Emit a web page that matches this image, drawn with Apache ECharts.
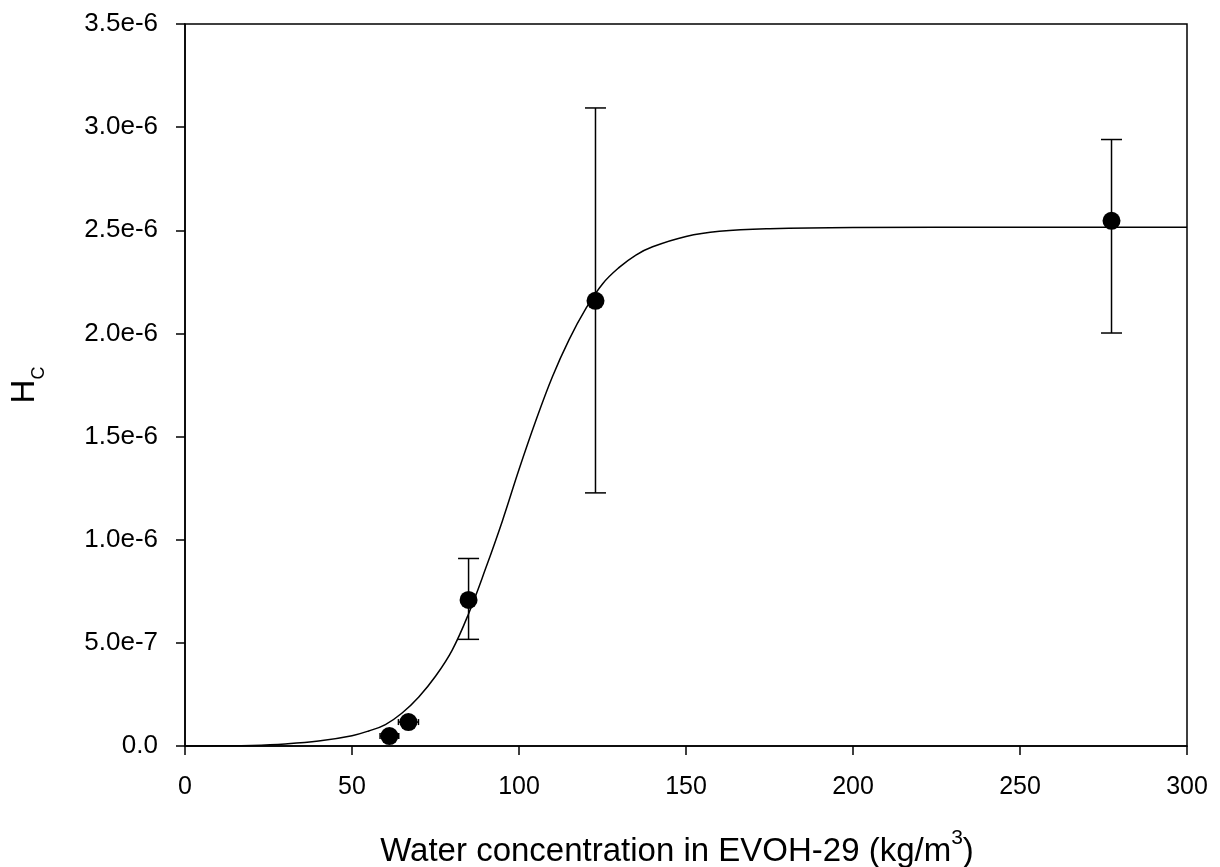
<!DOCTYPE html>
<html>
<head>
<meta charset="utf-8">
<script src="https://cdn.jsdelivr.net/npm/echarts@6/dist/echarts.min.js"></script>
<style>
html,body{margin:0;padding:0;background:#fff;}
#chart{width:1220px;height:867px;}
</style>
</head>
<body>
<div id="chart"></div>
<script>
// Measured data points
const pointX = [61.2, 66.9, 84.9, 122.9, 277.4];
const pointY = [0.048e-6, 0.116e-6, 0.708e-6, 2.158e-6, 2.546e-6];
// Vertical error bars (null = none)
const errLow  = [null, null, 0.517e-6, 1.227e-6, 2.002e-6];
const errHigh = [null, null, 0.909e-6, 3.093e-6, 2.940e-6];
// Horizontal error half-widths (kg/m3)
const xErr = [2.8, 3.0, 0, 0, 0];

// Fitted curve
const curveX = [0, 10, 20, 30, 40, 50, 55, 60, 65, 70, 75, 80, 85, 90, 95, 100, 105, 110, 115, 120, 125, 130, 135, 140, 150, 160, 175, 200, 250, 300];
const curveY = [0.0, 0.001e-6, 0.003e-6, 0.010e-6, 0.024e-6, 0.050e-6, 0.073e-6, 0.104e-6, 0.160e-6, 0.238e-6, 0.338e-6, 0.465e-6, 0.645e-6, 0.860e-6, 1.090e-6, 1.340e-6, 1.575e-6, 1.790e-6, 1.970e-6, 2.120e-6, 2.240e-6, 2.320e-6, 2.380e-6, 2.420e-6, 2.470e-6, 2.495e-6, 2.508e-6, 2.514e-6, 2.515e-6, 2.515e-6];

const yTicks = ['0.0', '5.0e-7', '1.0e-6', '1.5e-6', '2.0e-6', '2.5e-6', '3.0e-6', '3.5e-6'];

const FONT = '"Liberation Sans", Arial, sans-serif';

const chart = echarts.init(document.getElementById('chart'));

const scatterData = pointX.map((x, i) => [x, pointY[i]]);
const vErrData = [];
const hErrData = [];
pointX.forEach((x, i) => {
  if (errLow[i] !== null) vErrData.push([x, pointY[i], errLow[i], errHigh[i]]);
  if (xErr[i] > 0) hErrData.push([x, pointY[i], x - xErr[i], x + xErr[i]]);
});

const option = {
  animation: false,
  backgroundColor: '#fff',
  grid: {
    left: 185, right: 33, top: 24, bottom: 121,
    containLabel: false,
    outerBoundsMode: 'none',
    show: true, borderColor: '#000', borderWidth: 1.5, backgroundColor: 'transparent'
  },
  xAxis: {
    type: 'value', min: 0, max: 300, interval: 50,
    axisLine: { show: true, lineStyle: { color: '#000', width: 1.5 } },
    axisTick: { show: true, inside: false, length: 9, lineStyle: { color: '#000', width: 1.5 } },
    axisLabel: { color: '#000', fontSize: 25, fontFamily: FONT, margin: 29 },
    splitLine: { show: false },
    name: '{a|Water concentration in EVOH-29 (kg/m}{s|3}{a|)}',
    nameLocation: 'middle',
    nameGap: 82,
    nameTextStyle: {
      padding: [0, 18, 0, 0],
      rich: {
        a: { fontSize: 33, fontFamily: FONT, color: '#000', lineHeight: 40, verticalAlign: 'bottom' },
        s: { fontSize: 21, fontFamily: FONT, color: '#000', lineHeight: 40, verticalAlign: 'top' }
      }
    }
  },
  yAxis: {
    type: 'value', min: 0, max: 3.5e-6, interval: 0.5e-6,
    axisLine: { show: true, lineStyle: { color: '#000', width: 1.5 } },
    axisTick: { show: true, inside: false, length: 9, lineStyle: { color: '#000', width: 1.5 } },
    axisLabel: {
      color: '#000', fontSize: 26, fontFamily: FONT, margin: 27,
      formatter: (v) => yTicks[Math.round(v / 0.5e-6)]
    },
    splitLine: { show: false },
    name: '{a|H}{s|C}',
    nameLocation: 'middle',
    nameRotate: 90,
    nameGap: 137,
    nameTextStyle: {
      rich: {
        a: { fontSize: 33, fontFamily: FONT, color: '#000', lineHeight: 40, verticalAlign: 'top' },
        s: { fontSize: 18, fontFamily: FONT, color: '#000', lineHeight: 40, verticalAlign: 'bottom' }
      }
    }
  },
  series: [
    {
      type: 'line',
      data: curveX.map((x, i) => [x, curveY[i]]),
      smooth: 0.4,
      showSymbol: false,
      lineStyle: { color: '#000', width: 1.5 },
      z: 2
    },
    {
      type: 'custom',
      data: vErrData,
      renderItem: (params, api) => {
        const x = api.value(0);
        const lo = api.coord([x, api.value(2)]);
        const hi = api.coord([x, api.value(3)]);
        const hw = 10.5;
        const style = { stroke: '#000', lineWidth: 1.5 };
        return {
          type: 'group',
          children: [
            { type: 'line', shape: { x1: lo[0], y1: lo[1], x2: hi[0], y2: hi[1] }, style },
            { type: 'line', shape: { x1: lo[0] - hw, y1: lo[1], x2: lo[0] + hw, y2: lo[1] }, style },
            { type: 'line', shape: { x1: hi[0] - hw, y1: hi[1], x2: hi[0] + hw, y2: hi[1] }, style }
          ]
        };
      },
      z: 3
    },
    {
      type: 'custom',
      data: hErrData,
      renderItem: (params, api) => {
        const y = api.value(1);
        const lo = api.coord([api.value(2), y]);
        const hi = api.coord([api.value(3), y]);
        const hh = 3;
        const style = { stroke: '#000', lineWidth: 1.5 };
        return {
          type: 'group',
          children: [
            { type: 'line', shape: { x1: lo[0], y1: lo[1], x2: hi[0], y2: hi[1] }, style },
            { type: 'line', shape: { x1: lo[0], y1: lo[1] - hh, x2: lo[0], y2: lo[1] + hh }, style },
            { type: 'line', shape: { x1: hi[0], y1: hi[1] - hh, x2: hi[0], y2: hi[1] + hh }, style }
          ]
        };
      },
      z: 3
    },
    {
      type: 'scatter',
      data: scatterData,
      symbol: 'circle',
      symbolSize: 18,
      itemStyle: { color: '#000', opacity: 1 },
      z: 4
    }
  ]
};
chart.setOption(option);
</script>
</body>
</html>
